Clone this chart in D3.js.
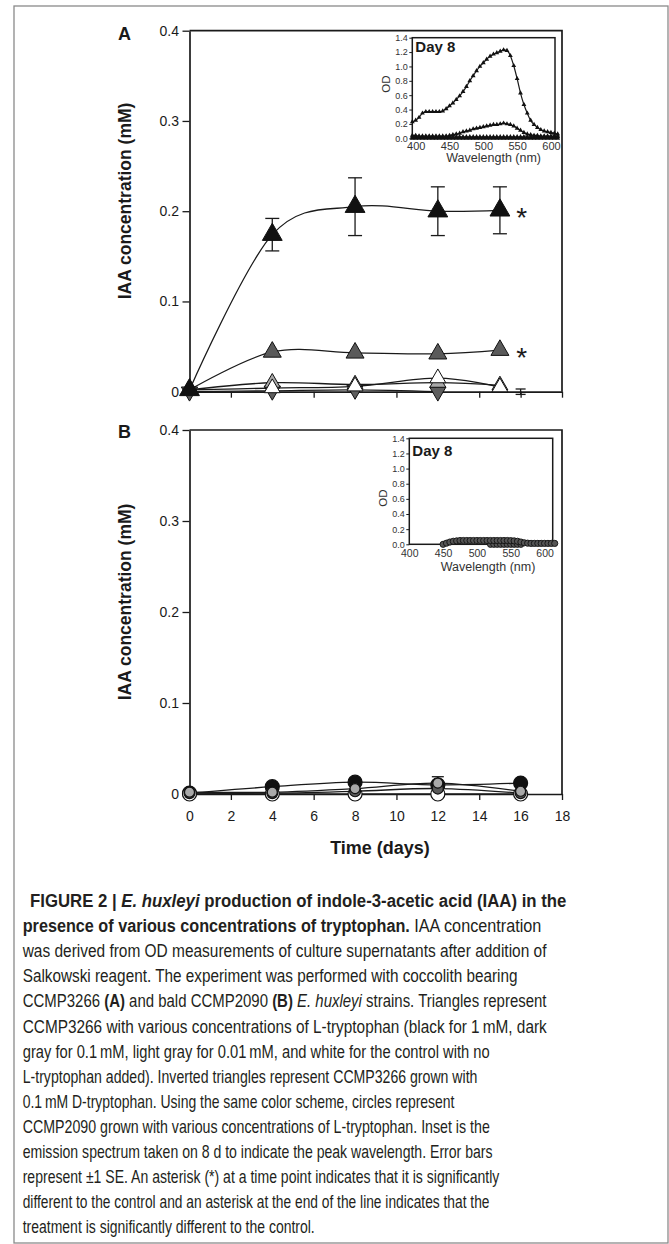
<!DOCTYPE html>
<html><head><meta charset="utf-8">
<script src="https://cdn.jsdelivr.net/npm/d3@7"></script>
<style>html,body{margin:0;padding:0;background:#fff}svg{display:block}</style>
</head><body>
<svg id="fig" width="669" height="1244"></svg>
<script>
// ---------------- DATA ----------------
// Main panels: time (days)
const daysA = [0, 4, 8, 12, 15];
const daysDtrp = [0, 4, 8, 12];
const daysB = [0, 4, 8, 12, 16];
const dayTicks = [0, 2, 4, 6, 8, 10, 12, 14, 16, 18];
const concTicks = [0, 0.1, 0.2, 0.3, 0.4];

// Panel A: CCMP3266, IAA (mM)
const ltrp1mM   = [0.002, 0.174, 0.205, 0.200, 0.201];
const ltrp1mMErr= [0, 0.018, 0.032, 0.027, 0.026];
const ltrp01mM  = [0.002, 0.044, 0.043, 0.042, 0.046];
const ltrp001mM = [0.002, 0.010, 0.008, 0.010, 0.007];
const controlA  = [0.002, 0.004, 0.006, 0.015, 0.005];
const dtrp01mM  = [0.000, 0.001, 0.002, 0.000];
const strayErrA = [{day: 16, value: 0, err: 0.003}];

// Panel B: CCMP2090, IAA (mM)
const circ1mM     = [0.001, 0.008, 0.013, 0.010, 0.012];
const circ01mM    = [0.001, 0.001, 0.003, 0.006, 0.001];
const circ001mM   = [0.002, 0.002, 0.006, 0.012, 0.003];
const circ001Err  = [0, 0, 0, 0.007, 0];
const circControl = [0.000, 0.000, 0.000, 0.000, 0.000];

// Insets: emission spectra on day 8
const odTicks = [0, 0.2, 0.4, 0.6, 0.8, 1.0, 1.2, 1.4];
const nmTicks = [400, 450, 500, 550, 600];
const wlA = [395,400,405,410,415,420,425,430,435,440,445,450,455,460,465,470,475,480,485,490,495,500,
             505,510,515,520,525,530,535,540,545,550,555,560,565,570,575,580,585,590,595,600,605,610];
const specA1mM = [0.23,0.25,0.29,0.35,0.37,0.37,0.37,0.37,0.37,0.38,0.41,0.45,0.49,0.54,0.59,0.65,0.72,0.80,0.87,0.94,1.00,1.05,
                  1.10,1.14,1.17,1.19,1.21,1.23,1.22,1.15,1.01,0.83,0.63,0.47,0.35,0.25,0.19,0.15,0.12,0.10,0.09,0.08,0.07,0.06];
const specA01mM = [0.04,0.04,0.03,0.03,0.03,0.03,0.03,0.03,0.03,0.03,0.03,0.04,0.05,0.06,0.07,0.09,0.10,0.11,0.13,0.14,0.15,0.16,
                   0.17,0.18,0.19,0.19,0.20,0.21,0.20,0.19,0.17,0.14,0.11,0.08,0.06,0.05,0.04,0.04,0.03,0.03,0.03,0.03,0.03,0.03];
const specA001mM = [0.02,0.02,0.02,0.02,0.02,0.02,0.02,0.02,0.02,0.02,0.02,0.02,0.02,0.02,0.02,0.02,0.02,0.02,0.02,0.02,0.02,0.02,
                    0.02,0.02,0.02,0.02,0.02,0.02,0.02,0.02,0.02,0.02,0.02,0.02,0.02,0.02,0.02,0.02,0.02,0.02,0.02,0.02,0.02,0.02];
const specActrl = [0.00,0.00,0.00,0.00,0.00,0.00,0.00,0.00,0.00,0.00,0.00,0.00,0.00,0.00,0.00,0.00,0.00,0.00,0.00,0.00,0.00,0.00,
                   0.00,0.00,0.00,0.00,0.00,0.00,0.00,0.00,0.00,0.00,0.00,0.00,0.00,0.00,0.00,0.00,0.00,0.00,0.00,0.00,0.00,0.00];
const wlB = [450,455,460,465,470,475,480,485,490,495,500,505,510,515,520,525,530,535,540,545,550,555,560,565,570,575,580,585,590,595,600,605,610,615];
const specB1 = [0.00,0.015,0.03,0.04,0.045,0.05,0.05,0.05,0.05,0.05,0.05,0.05,0.05,0.05,0.05,0.05,0.05,0.05,0.05,0.05,0.048,0.045,0.04,0.03,0.02,0.015,0.012,0.012,0.012,0.012,0.012,0.012,0.012,0.012];
const wlB2 = [520,525,530,535,540,545,550,555,560,565];
const specB2 = [0,0,0,0,0,0,0,0,0,0];

// Caption text
const captionLines = [
  [["b","FIGURE 2 | "],["bi","E. huxleyi"],["b"," production of indole-3-acetic acid (IAA) in the"]],
  [["b","presence of various concentrations of tryptophan."],["n"," IAA concentration"]],
  [["n","was derived from OD measurements of culture supernatants after addition of"]],
  [["n","Salkowski reagent. The experiment was performed with coccolith bearing"]],
  [["n","CCMP3266 "],["b","(A)"],["n"," and bald CCMP2090 "],["b","(B)"],["n"," "],["i","E. huxleyi"],["n"," strains. Triangles represent"]],
  [["n","CCMP3266 with various concentrations of L-tryptophan (black for 1\u2009mM, dark"]],
  [["n","gray for 0.1\u2009mM, light gray for 0.01\u2009mM, and white for the control with no"]],
  [["n","L-tryptophan added). Inverted triangles represent CCMP3266 grown with"]],
  [["n","0.1\u2009mM D-tryptophan. Using the same color scheme, circles represent"]],
  [["n","CCMP2090 grown with various concentrations of L-tryptophan. Inset is the"]],
  [["n","emission spectrum taken on 8 d to indicate the peak wavelength. Error bars"]],
  [["n","represent \u00b11 SE. An asterisk (*) at a time point indicates that it is significantly"]],
  [["n","different to the control and an asterisk at the end of the line indicates that the"]],
  [["n","treatment is significantly different to the control."]]
];

// ---------------- LAYOUT ----------------
const svg = d3.select("#fig");
const FONT = "'Liberation Sans', Arial, Helvetica, sans-serif";
const CAPFONT = "'Liberation Sans Narrow', 'Arial Narrow', 'Liberation Sans', Arial, sans-serif";
const INK = "#1a1a1a";

svg.append("rect").attr("x", 14).attr("y", 6).attr("width", 654).attr("height", 1237)
  .attr("fill", "none").attr("stroke", "#8a8a8a").attr("stroke-width", 1.3);

const xA = d3.scaleLinear().domain([0, 18]).range([189.5, 562]);
const yA = d3.scaleLinear().domain([0, 0.4]).range([391.7, 30.7]);
const xB = d3.scaleLinear().domain([0, 18]).range([189.5, 562]);
const yB = d3.scaleLinear().domain([0, 0.4]).range([794, 430]);

function drawFrame(x, y, xLabels) {
  const [x0, x1] = x.range(); const [yb, yt] = y.range();
  const g = svg.append("g");
  g.append("path").attr("d", `M${x0},${yt}H${x1}V${yb}`).attr("fill", "none")
    .attr("stroke", INK).attr("stroke-width", 1.7);
  const ax = g.append("g").attr("transform", `translate(0,${yb})`)
    .call(d3.axisBottom(x).tickValues(dayTicks).tickSize(6).tickSizeOuter(0).tickPadding(11)
      .tickFormat(xLabels ? d3.format("d") : () => ""));
  const ay = g.append("g").attr("transform", `translate(${x0},0)`)
    .call(d3.axisLeft(y).tickValues(concTicks).tickSize(7).tickSizeOuter(0).tickPadding(3.5)
      .tickFormat(d => d === 0 ? "0" : d3.format(".1f")(d)));
  [ax, ay].forEach(a => {
    a.select(".domain").attr("stroke", INK).attr("stroke-width", 1.7);
    a.selectAll(".tick line").attr("stroke", INK).attr("stroke-width", 1.3);
    a.selectAll("text").attr("font-family", FONT).attr("font-size", 14).attr("fill", INK);
  });
}

function yTitle(cx, cy) {
  svg.append("text").attr("transform", `translate(${cx},${cy}) rotate(-90)`)
    .attr("text-anchor", "middle").attr("font-family", FONT).attr("font-weight", "bold")
    .attr("font-size", 17.5).attr("fill", INK).text("IAA concentration (mM)");
}

const smooth = d3.curveCardinal.tension(0);

function drawLine(x, y, days, vals) {
  svg.append("path").datum(days.map((d, i) => [d, vals[i]]))
    .attr("d", d3.line().x(d => x(d[0])).y(d => y(d[1])).curve(smooth))
    .attr("fill", "none").attr("stroke", INK).attr("stroke-width", 1.3);
}

function drawErr(x, y, pts, cap) {
  const g = svg.append("g").attr("stroke", INK).attr("stroke-width", 1.3);
  pts.filter(p => p.err > 0).forEach(p => {
    const cx = x(p.day), top = y(p.value + p.err), bot = y(p.value - p.err);
    g.append("line").attr("x1", cx).attr("x2", cx).attr("y1", top).attr("y2", bot);
    g.append("line").attr("x1", cx - cap / 2).attr("x2", cx + cap / 2).attr("y1", top).attr("y2", top);
    g.append("line").attr("x1", cx - cap / 2).attr("x2", cx + cap / 2).attr("y1", bot).attr("y2", bot);
  });
}

function drawTri(x, y, days, vals, fill, size, down) {
  const sym = d3.symbol().type(d3.symbolTriangle).size(size);
  svg.append("g").selectAll("path").data(days.map((d, i) => [d, vals[i]])).join("path")
    .attr("d", sym)
    .attr("transform", d => `translate(${x(d[0])},${y(d[1])})${down ? " rotate(180)" : ""}`)
    .attr("fill", fill).attr("stroke", "#111").attr("stroke-width", 1);
}

function drawCirc(x, y, days, vals, fill, r) {
  svg.append("g").selectAll("circle").data(days.map((d, i) => [d, vals[i]])).join("circle")
    .attr("cx", d => x(d[0])).attr("cy", d => y(d[1])).attr("r", r)
    .attr("fill", fill).attr("stroke", "#111").attr("stroke-width", 1.2);
}

function star(x, y, day, val) {
  svg.append("text").attr("x", x(day) + 1).attr("y", y(val)).attr("dy", "0.6em")
    .attr("text-anchor", "middle").attr("font-family", FONT).attr("font-size", 28)
    .attr("fill", INK).text("*");
}

// ---------- Panel A ----------
drawFrame(xA, yA, false);
svg.append("text").attr("x", 124.5).attr("y", 39.5).attr("text-anchor", "middle")
  .attr("font-family", FONT).attr("font-weight", "bold").attr("font-size", 18).attr("fill", INK).text("A");
yTitle(131, 201);

drawLine(xA, yA, daysDtrp, dtrp01mM);
drawLine(xA, yA, daysA, controlA);
drawLine(xA, yA, daysA, ltrp001mM);
drawLine(xA, yA, daysA, ltrp01mM);
drawLine(xA, yA, daysA, ltrp1mM);
drawErr(xA, yA, daysA.map((d, i) => ({day: d, value: ltrp1mM[i], err: ltrp1mMErr[i]})), 14);
drawErr(xA, yA, strayErrA, 10);
drawTri(xA, yA, daysDtrp, dtrp01mM, "#5e5e5e", 115, true);
drawTri(xA, yA, daysA, ltrp001mM, "#a9a9a9", 110, false);
drawTri(xA, yA, daysA, controlA, "#ffffff", 110, false);
drawTri(xA, yA, daysA, ltrp01mM, "#5a5a5a", 140, false);
drawTri(xA, yA, daysA, ltrp1mM, "#111111", 170, false);
star(xA, yA, 16, ltrp1mM[4]);
star(xA, yA, 16, ltrp01mM[4]);

// ---------- Panel B ----------
drawFrame(xB, yB, true);
svg.append("text").attr("x", 124.5).attr("y", 437.5).attr("text-anchor", "middle")
  .attr("font-family", FONT).attr("font-weight", "bold").attr("font-size", 18).attr("fill", INK).text("B");
yTitle(131, 602);
svg.append("text").attr("x", 380).attr("y", 854).attr("text-anchor", "middle")
  .attr("font-family", FONT).attr("font-weight", "bold").attr("font-size", 18).attr("fill", INK).text("Time (days)");

drawLine(xB, yB, daysB, circControl);
drawLine(xB, yB, daysB, circ01mM);
drawLine(xB, yB, daysB, circ001mM);
drawLine(xB, yB, daysB, circ1mM);
drawErr(xB, yB, daysB.map((d, i) => ({day: d, value: circ001mM[i], err: circ001Err[i]})), 12);
drawCirc(xB, yB, daysB, circ1mM, "#111111", 7);
drawCirc(xB, yB, daysB, circControl, "#ffffff", 7);
drawCirc(xB, yB, daysB, circ01mM, "#5a5a5a", 5.5);
drawCirc(xB, yB, daysB, circ001mM, "#a9a9a9", 5);

// ---------- Insets ----------
function inset(cfg) {
  const x = cfg.x, y = cfg.y;
  const [xl, xr] = x.range(); const [yb, yt] = y.range();
  svg.append("rect").attr("x", xl).attr("y", yt).attr("width", xr - xl).attr("height", yb - yt)
    .attr("fill", "#fff").attr("stroke", INK).attr("stroke-width", 1.5);
  const ay = svg.append("g").attr("transform", `translate(${xl},0)`)
    .call(d3.axisLeft(y).tickValues(odTicks).tickSize(3).tickPadding(1.5).tickFormat(d3.format(".1f")));
  const ax = svg.append("g").attr("transform", `translate(0,${yb})`)
    .call(d3.axisBottom(x).tickValues(nmTicks).tickSize(0).tickPadding(cfg.xPad));
  [ax, ay].forEach(a => {
    a.select(".domain").remove();
    a.selectAll(".tick line").attr("stroke", INK).attr("stroke-width", 1);
  });
  ay.selectAll("text").attr("font-family", FONT).attr("font-size", 9).attr("fill", "#333");
  ax.selectAll("text").attr("font-family", FONT).attr("font-size", cfg.xFont).attr("fill", "#333");
  svg.append("text").attr("x", (xl + xr) / 2 + cfg.wlShift).attr("y", yb + cfg.wlDy).attr("text-anchor", "middle")
    .attr("font-family", FONT).attr("font-size", 12.5).attr("fill", "#333").text("Wavelength (nm)");
  svg.append("text").attr("transform", `translate(${xl - 22},${cfg.odY}) rotate(-90)`).attr("text-anchor", "middle")
    .attr("font-family", FONT).attr("font-size", 11.5).attr("fill", "#333").text("OD");
  svg.append("text").attr("x", xl + 3).attr("y", yt + cfg.dayDy).attr("font-family", FONT)
    .attr("font-weight", "bold").attr("font-size", 15).attr("fill", INK).text("Day 8");
}

const xIA = d3.scaleLinear().domain([395, 606]).range([412.3, 555]);
const yIA = d3.scaleLinear().domain([0, 1.4]).range([138.3, 37.7]);
const xIB = d3.scaleLinear().domain([400, 612]).range([409.3, 552.7]);
const yIB = d3.scaleLinear().domain([0, 1.4]).range([544.3, 438.3]);

inset({x: xIA, y: yIA, wlShift: 10, odY: 84, dayDy: 14, xPad: 4, xFont: 11, wlDy: 24});
inset({x: xIB, y: yIB, wlShift: 7, odY: 498, dayDy: 18, xPad: 5, xFont: 10.5, wlDy: 27});

function spectrum(x, y, wl, vals, marker) {
  const pts = wl.map((w, i) => [w, vals[i]]);
  svg.append("path").datum(pts)
    .attr("d", d3.line().x(d => x(d[0])).y(d => y(d[1])).curve(d3.curveMonotoneX))
    .attr("fill", "none").attr("stroke", INK).attr("stroke-width", 1.2);
  if (marker === "tri") {
    const sym = d3.symbol().type(d3.symbolTriangle).size(10);
    svg.append("g").selectAll("path").data(pts).join("path").attr("d", sym)
      .attr("transform", d => `translate(${x(d[0])},${y(d[1])})`).attr("fill", "#111");
  } else {
    svg.append("g").selectAll("circle").data(pts).join("circle")
      .attr("cx", d => x(d[0])).attr("cy", d => y(d[1])).attr("r", 3.1)
      .attr("fill", "#555").attr("stroke", "#111").attr("stroke-width", 0.9);
  }
}
spectrum(xIA, yIA, wlA, specActrl, "tri");
spectrum(xIA, yIA, wlA, specA001mM, "tri");
spectrum(xIA, yIA, wlA, specA01mM, "tri");
spectrum(xIA, yIA, wlA, specA1mM, "tri");
spectrum(xIB, yIB, wlB2, specB2, "circ");
spectrum(xIB, yIB, wlB, specB1, "circ");

// ---------- Caption ----------
const capLeft  = [30, 22.7, 22.7, 22.7, 22.7, 22.7, 22.7, 22.7, 22.7, 22.7, 22.7, 22.7, 22.7, 22.7];
const capRight = [567, 542, 547, 518, 547, 547, 490, 478, 455, 490, 493, 500, 490, 315];
captionLines.forEach((segs, i) => {
  const base = 907 + i * 25.1;
  const g = svg.append("g").attr("transform", `translate(${capLeft[i]},${base})`);
  const t = g.append("text").attr("x", 0).attr("y", 0).attr("font-family", CAPFONT)
    .attr("font-size", 18.5).attr("fill", "#231f20");
  segs.forEach(([st, txt]) => {
    t.append("tspan").text(txt)
      .attr("font-weight", st.includes("b") ? "bold" : "normal")
      .attr("font-style", st.includes("i") ? "italic" : "normal");
  });
  const w = t.node().getComputedTextLength();
  const sx = (capRight[i] - capLeft[i]) / w;
  g.attr("transform", `translate(${capLeft[i]},${base}) scale(${sx},1)`);
});
</script>
</body></html>
